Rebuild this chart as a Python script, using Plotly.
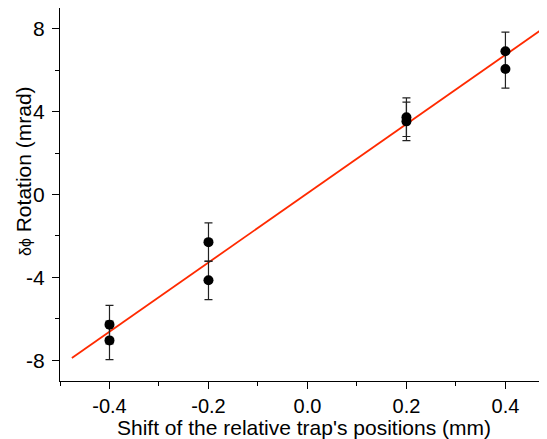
import plotly.graph_objects as go

# Data
x_vals = [-0.4, -0.4, -0.2, -0.2, 0.2, 0.2, 0.4, 0.4]
y_vals = [-6.28, -7.04, -2.30, -4.14, 3.73, 3.53, 6.91, 6.06]
y_err = [0.93, 0.93, 0.93, 0.93, 0.93, 0.93, 0.93, 0.93]
fit_x = [-0.476, 0.475]
fit_y = [-7.89, 7.99]

x_ticks = [-0.4, -0.2, 0.0, 0.2, 0.4]
x_ticklabels = ["-0.4", "-0.2", "0.0", "0.2", "0.4"]
y_ticks = [-8, -4, 0, 4, 8]
y_ticklabels = ["-8", "-4", "0", "4", "8"]

font_family = "Liberation Sans"

fig = go.Figure()
fig.add_trace(go.Scatter(
    x=fit_x, y=fit_y, mode="lines",
    line=dict(color="#ff2a00", width=1.8),
    showlegend=False, hoverinfo="skip",
))
fig.add_trace(go.Scatter(
    x=x_vals, y=y_vals, mode="markers",
    marker=dict(color="black", size=10),
    error_y=dict(type="data", array=y_err, visible=True,
                 color="#222222", thickness=1.2, width=4),
    showlegend=False,
))

axis_common = dict(
    showgrid=False, zeroline=False,
    showline=True, linecolor="black", linewidth=1.2,
    ticks="outside", ticklen=7, tickwidth=1.2, tickcolor="black",
    mirror=False, automargin=False,
)

fig.update_xaxes(
    range=[-0.5, 0.484],
    tickvals=x_ticks, ticktext=x_ticklabels,
    tickfont=dict(family=font_family, size=20, color="black"),
    minor=dict(dtick=0.1, tick0=0.1, ticks="outside", ticklen=4, tickwidth=1.2, tickcolor="black"),
    **axis_common,
)
fig.update_yaxes(
    range=[-9, 9],
    tickvals=y_ticks, ticktext=y_ticklabels,
    tickfont=dict(family=font_family, size=21, color="black"),
    ticklabelstandoff=3,
    minor=dict(dtick=2, tick0=0, ticks="outside", ticklen=4, tickwidth=1.2, tickcolor="black"),
    **axis_common,
)

fig.add_annotation(
    text="Shift of the relative trap's positions (mm)",
    xref="paper", yref="paper", x=0.5, y=0, yshift=-46,
    xanchor="center", yanchor="middle", showarrow=False,
    font=dict(family=font_family, size=21, color="black"),
)
fig.add_annotation(
    text="<span style='font-size:16px'>δϕ</span> Rotation (mrad)",
    xref="paper", yref="paper", x=0, y=0.563, xshift=-37,
    xanchor="center", yanchor="middle", textangle=-90, showarrow=False,
    font=dict(family=font_family, size=21, color="black"),
)

fig.update_layout(
    width=539, height=431,
    margin=dict(l=52, r=0, t=0, b=58),
    plot_bgcolor="white", paper_bgcolor="white",
    font=dict(family=font_family, color="black"),
)

fig.write_html("out.html")
